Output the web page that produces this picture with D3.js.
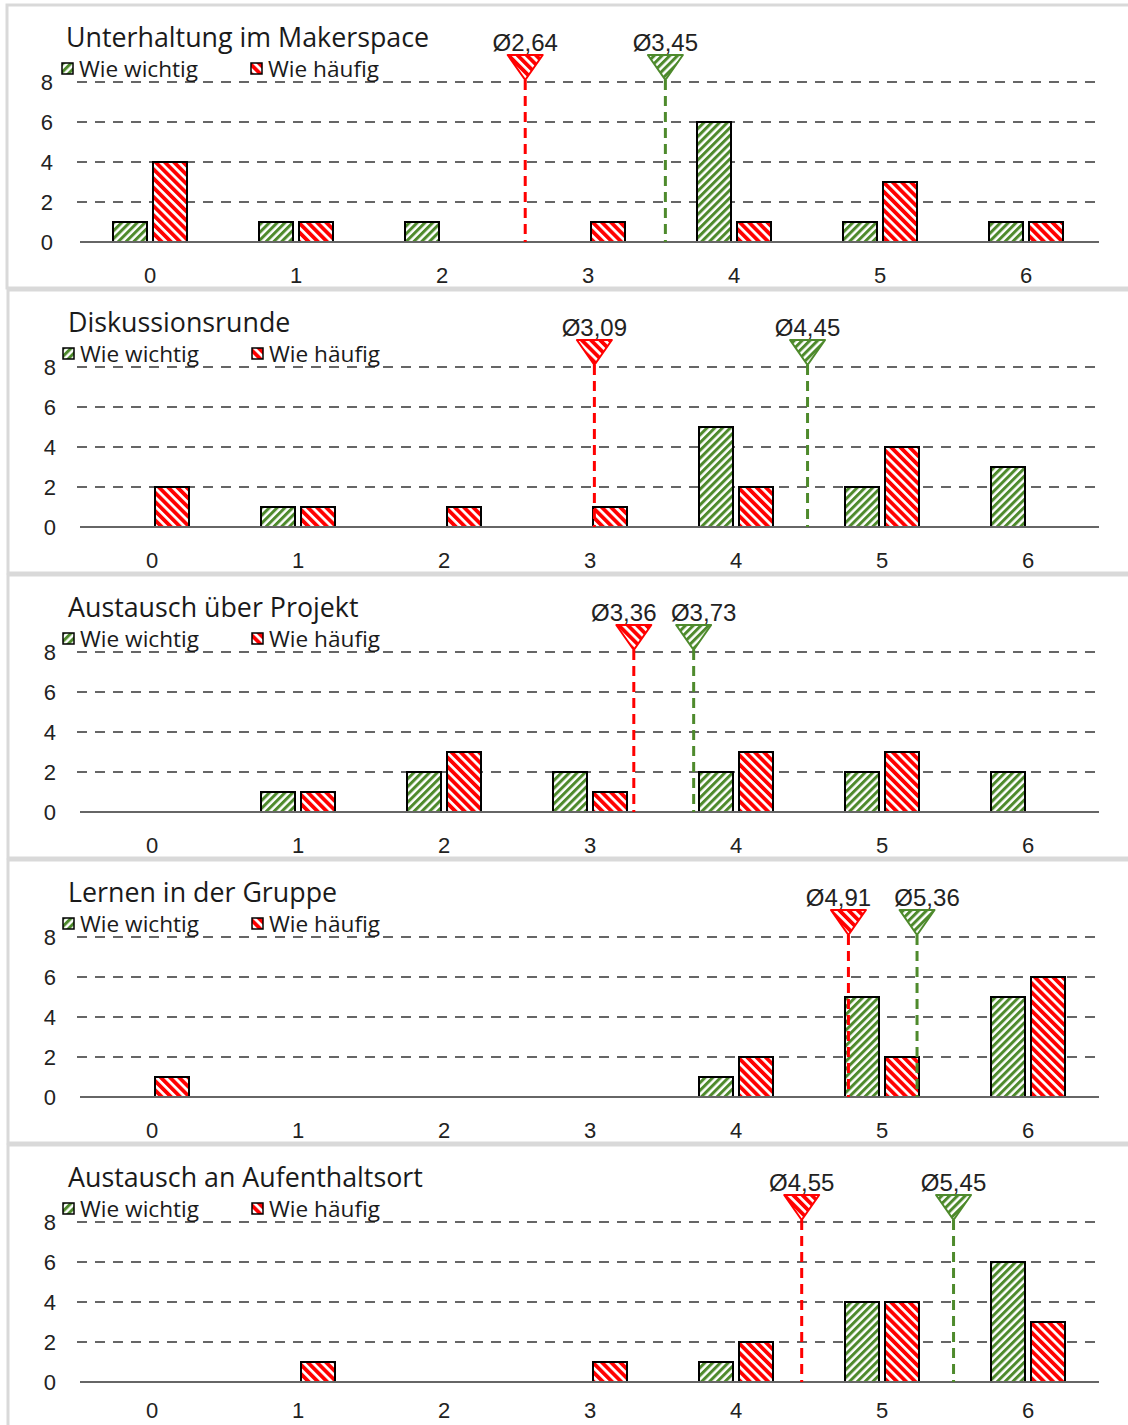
<!DOCTYPE html>
<html><head><meta charset="utf-8">
<script src="https://cdn.jsdelivr.net/npm/d3@7"></script>
<style>
html,body{margin:0;padding:0;background:#fff;}
svg{display:block;}
</style></head>
<body>
<script>
// ---- data ----
const categories = [0, 1, 2, 3, 4, 5, 6];
const yTicks = [0, 2, 4, 6, 8];
const titles = ["Unterhaltung im Makerspace", "Diskussionsrunde", "Austausch über Projekt", "Lernen in der Gruppe", "Austausch an Aufenthaltsort"];
const seriesNames = ["Wie wichtig", "Wie häufig"];
const wichtig1 = [1, 1, 1, 0, 6, 1, 1];
const haeufig1 = [4, 1, 0, 1, 1, 3, 1];
const wichtig2 = [0, 1, 0, 0, 5, 2, 3];
const haeufig2 = [2, 1, 1, 1, 2, 4, 0];
const wichtig3 = [0, 1, 2, 2, 2, 2, 2];
const haeufig3 = [0, 1, 3, 1, 3, 3, 0];
const wichtig4 = [0, 0, 0, 0, 1, 5, 5];
const haeufig4 = [1, 0, 0, 0, 2, 2, 6];
const wichtig5 = [0, 0, 0, 0, 1, 4, 6];
const haeufig5 = [0, 1, 0, 1, 2, 4, 3];
const meanWichtig = ["3,45", "4,45", "3,73", "5,36", "5,45"];
const meanHaeufig = ["2,64", "3,09", "3,36", "4,91", "4,55"];
// where the mean markers sit on the 0–6 scale as drawn
const markerWichtig = [3.53, 4.49, 3.71, 5.24, 5.49];
const markerHaeufig = [2.57, 3.03, 3.30, 4.77, 4.45];

const panels = titles.map((t, i) => ({
  title: t,
  wichtig: [wichtig1, wichtig2, wichtig3, wichtig4, wichtig5][i],
  haeufig: [haeufig1, haeufig2, haeufig3, haeufig4, haeufig5][i],
  meanW: meanWichtig[i], meanH: meanHaeufig[i],
  posW: markerWichtig[i], posH: markerHaeufig[i]
}));

// ---- styles ----
const GREEN = "#4e8a2c", RED = "#ff0000", GRID = "#666666", BORDER = "#d9d9d9";
const W = 1128, H = 1425, PANEL_H = 285;

const svg = d3.select("body").append("svg").attr("width", W).attr("height", H);
const defs = svg.append("defs");
function hatch(id, color, angle, period, line) {
  const p = defs.append("pattern").attr("id", id).attr("patternUnits", "userSpaceOnUse")
    .attr("width", period).attr("height", period).attr("patternTransform", `rotate(${angle})`);
  p.append("rect").attr("width", period).attr("height", period).attr("fill", "#fff");
  p.append("rect").attr("width", line).attr("height", period).attr("fill", color);
}
hatch("hg", GREEN, 45, 5.5, 3);
hatch("hr", RED, -45, 6.5, 3.8);

const y = d3.scaleLinear().domain([0, 8]).range([242, 82]);

panels.forEach((p, i) => {
  const dy = i * PANEL_H;
  const dx = i === 0 ? 0 : 2;
  const last = i === panels.length - 1;
  const g = svg.append("g").attr("transform", `translate(0,${dy})`);

  // panel frame
  g.append("rect").attr("x", i === 0 ? 7 : 8).attr("y", 5).attr("width", 1140).attr("height", 283)
    .attr("fill", "none").attr("stroke", BORDER).attr("stroke-width", 3);

  const x = d3.scaleBand().domain(categories).range([77 + dx, 1099 + dx]).padding(0);
  const xs = d3.scaleBand().domain(["w", "h"]).range([x.bandwidth() / 2 - 37, x.bandwidth() / 2 + 37]).paddingInner(0.15);
  const xLin = d3.scaleLinear().domain([0, 6]).range([x(0) + x.bandwidth() / 2, x(6) + x.bandwidth() / 2]);

  // title
  g.append("text").attr("x", i === 0 ? 66 : 68).attr("y", 47).text(p.title)
    .attr("font-family", "'Open Sans', sans-serif").attr("font-size", 26.8).attr("fill", "#1a1a1a");

  // gridlines
  g.append("g").selectAll("line").data(yTicks.filter(t => t > 0)).join("line")
    .attr("x1", 77).attr("x2", 1095).attr("y1", d => y(d)).attr("y2", d => y(d))
    .attr("stroke", GRID).attr("stroke-width", 2).attr("stroke-dasharray", "10,8");

  // y axis labels
  const yAxis = d3.axisLeft(y).tickValues(yTicks).tickSize(0).tickPadding(0);
  const ya = g.append("g").attr("transform", `translate(${i === 0 ? 53 : 56},0)`).call(yAxis);
  ya.select(".domain").remove();
  ya.selectAll("text").attr("font-family", "'Liberation Sans', Arial, sans-serif").attr("font-size", 22).attr("fill", "#222");

  // bars
  const bars = g.append("g");
  categories.forEach((c, k) => {
    [["w", p.wichtig[k], "url(#hg)"], ["h", p.haeufig[k], "url(#hr)"]].forEach(([s, v, f]) => {
      if (v > 0) {
        bars.append("rect").attr("x", x(c) + xs(s)).attr("width", xs.bandwidth())
          .attr("y", y(v)).attr("height", y(0) - y(v))
          .attr("fill", f).attr("stroke", "#000").attr("stroke-width", 2);
      }
    });
  });

  // baseline
  g.append("line").attr("x1", 80).attr("x2", 1099).attr("y1", y(0)).attr("y2", y(0))
    .attr("stroke", GRID).attr("stroke-width", 2);

  // x axis labels
  const xAxis = d3.axisBottom(x).tickSize(0).tickPadding(0);
  const xa = g.append("g").attr("transform", `translate(0,${y(0) + (last ? 29 : 34)})`).call(xAxis);
  xa.select(".domain").remove();
  xa.selectAll("text").attr("font-family", "'Liberation Sans', Arial, sans-serif").attr("font-size", 22).attr("fill", "#222")
    .attr("dy", "0.32em");

  // legend
  const leg = g.append("g");
  [[0, 62, "url(#hg)"], [1, 251, "url(#hr)"]].forEach(([k, lx, f]) => {
    const ox = i === 0 ? 0 : 1;
    leg.append("rect").attr("x", lx + ox).attr("y", 63).attr("width", 11).attr("height", 11)
      .attr("fill", f).attr("stroke", "#000").attr("stroke-width", 1.5);
    leg.append("text").attr("x", lx + ox + 17).attr("y", 77).text(seriesNames[k])
      .attr("font-family", "'Open Sans', sans-serif").attr("font-size", 22.6).attr("fill", "#1a1a1a");
  });

  // mean markers
  const close = Math.abs(xLin(p.posW) - xLin(p.posH)) < 90;
  [[p.posH, p.meanH, RED, "url(#hr)", -1], [p.posW, p.meanW, GREEN, "url(#hg)", 1]].forEach(([pos, lab, col, f, side]) => {
    const mx = xLin(pos);
    const tip = y(8) - 2, top = y(8) - 27;
    g.append("line").attr("x1", mx).attr("x2", mx).attr("y1", tip).attr("y2", y(0))
      .attr("stroke", col).attr("stroke-width", 3).attr("stroke-dasharray", "10,6");
    g.append("path").attr("d", `M${mx - 17.5},${top}L${mx + 17.5},${top}L${mx},${tip}Z`)
      .attr("fill", f).attr("stroke", col).attr("stroke-width", 2).attr("stroke-linejoin", "round");
    g.append("text").attr("x", mx + (close ? side * 10 : 0)).attr("y", top - 4).attr("text-anchor", "middle").text("Ø" + lab)
      .attr("font-family", "'Liberation Sans', Arial, sans-serif").attr("font-size", 24).attr("fill", "#222");
  });
});
</script>
</body></html>
